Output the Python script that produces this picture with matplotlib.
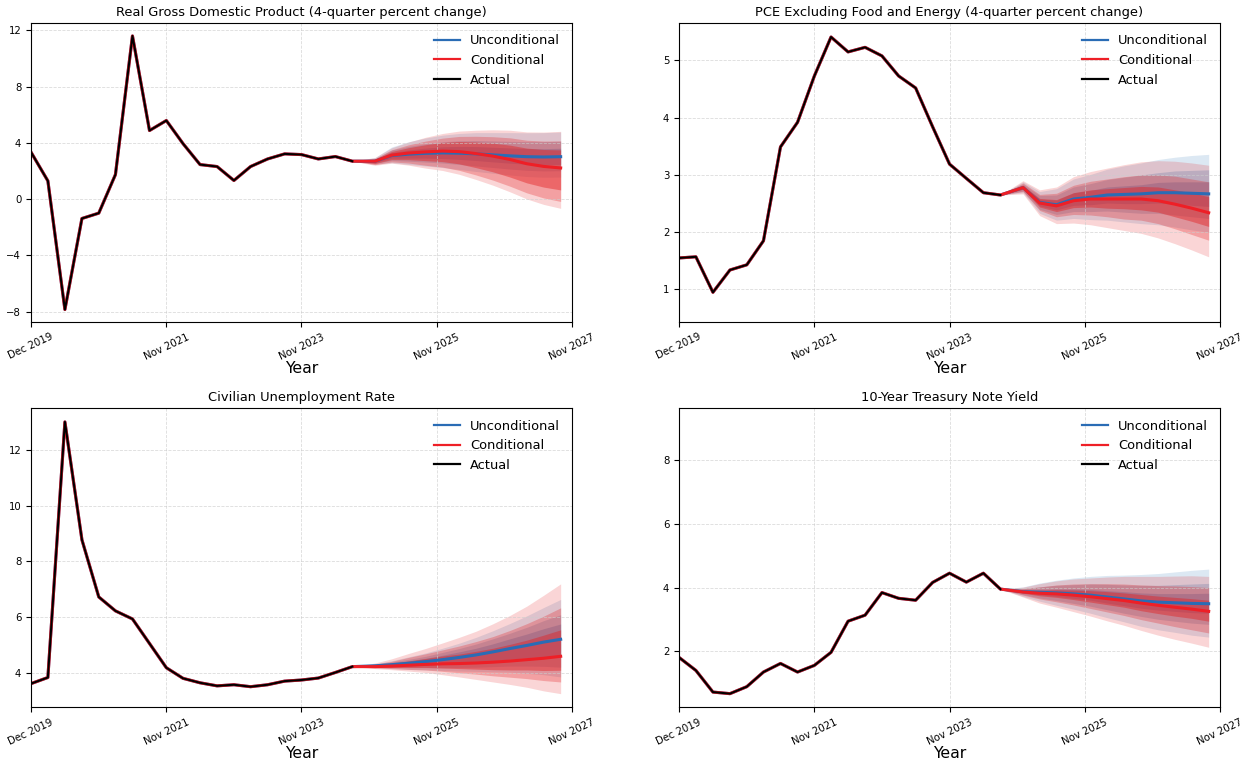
import numpy as np
import pandas as pd
import matplotlib
matplotlib.use("Agg")
import matplotlib.pyplot as plt
import matplotlib.dates as mdates
from matplotlib.lines import Line2D

# ---------------------------------------------------------------- dates
hist_dates = pd.date_range("2019-12-01", periods=20, freq="3MS")
proj_dates = pd.date_range("2025-01-01", periods=12, freq="3MS")
x_start = pd.Timestamp("2019-12-01")
x_end = pd.Timestamp("2027-12-01")
tick_labels = ["Dec 2019", "Nov 2021", "Nov 2023", "Nov 2025", "Nov 2027"]

titles = [
    "Real Gross Domestic Product (4-quarter percent change)",
    "PCE Excluding Food and Energy (4-quarter percent change)",
    "Civilian Unemployment Rate",
    "10-Year Treasury Note Yield",
]

# ---------------------------------------------------------------- real GDP
gdp_actual = [3.34, 1.30, -7.84, -1.37, -0.99, 1.75, 11.6, 4.88, 5.59, 3.95,
              2.46, 2.32, 1.33, 2.32, 2.86, 3.22, 3.17, 2.86, 3.03, 2.70]
gdp_uncond = [2.70, 2.70, 3.10, 3.20, 3.26, 3.29, 3.27, 3.22, 3.15, 3.08, 3.02, 3.00, 3.02]
gdp_cond = [2.70, 2.70, 3.13, 3.28, 3.36, 3.42, 3.38, 3.24, 3.06, 2.82, 2.52, 2.33, 2.22]
gdp_uncond_bands = [
    ([2.70, 2.48, 2.59, 2.47, 2.36, 2.25, 2.11, 1.97, 1.84, 1.72, 1.61, 1.56, 1.57],
     [2.70, 2.96, 3.71, 4.08, 4.35, 4.55, 4.67, 4.73, 4.73, 4.73, 4.72, 4.73, 4.77]),
    ([2.70, 2.55, 2.75, 2.70, 2.64, 2.57, 2.47, 2.36, 2.25, 2.14, 2.05, 2.01, 2.02],
     [2.70, 2.87, 3.49, 3.75, 3.94, 4.08, 4.15, 4.17, 4.14, 4.11, 4.09, 4.09, 4.12]),
    ([2.70, 2.62, 2.91, 2.92, 2.92, 2.89, 2.83, 2.75, 2.65, 2.56, 2.49, 2.46, 2.47],
     [2.70, 2.79, 3.31, 3.50, 3.63, 3.72, 3.75, 3.74, 3.69, 3.64, 3.60, 3.59, 3.62]),
]
gdp_cond_bands = [
    ([2.70, 2.41, 2.56, 2.42, 2.21, 2.04, 1.77, 1.40, 0.99, 0.52, 0.02, -0.37, -0.65],
     [2.70, 2.96, 3.65, 4.06, 4.40, 4.67, 4.84, 4.90, 4.93, 4.90, 4.78, 4.77, 4.82]),
    ([2.70, 2.46, 2.65, 2.57, 2.41, 2.28, 2.05, 1.72, 1.35, 0.92, 0.45, 0.09, -0.16],
     [2.70, 2.89, 3.51, 3.86, 4.13, 4.34, 4.46, 4.47, 4.44, 4.36, 4.19, 4.13, 4.14]),
    ([2.70, 2.54, 2.82, 2.81, 2.74, 2.67, 2.51, 2.24, 1.94, 1.57, 1.16, 0.86, 0.66],
     [2.70, 2.83, 3.39, 3.66, 3.87, 4.03, 4.10, 4.06, 3.98, 3.84, 3.63, 3.53, 3.50]),
]

# ---------------------------------------------------------------- core PCE
pce_actual = [1.55, 1.57, 0.95, 1.34, 1.43, 1.85, 3.49, 3.92, 4.73, 5.41,
              5.15, 5.23, 5.08, 4.73, 4.52, 3.84, 3.19, 2.94, 2.69, 2.65]
pce_uncond = [2.65, 2.78, 2.52, 2.48, 2.58, 2.61, 2.65, 2.66, 2.67, 2.69, 2.69, 2.68, 2.67]
pce_cond = [2.65, 2.78, 2.51, 2.46, 2.55, 2.58, 2.58, 2.58, 2.58, 2.55, 2.49, 2.42, 2.34]
pce_uncond_bands = [
    ([2.65, 2.69, 2.33, 2.21, 2.24, 2.22, 2.21, 2.18, 2.15, 2.13, 2.09, 2.04, 2.00],
     [2.65, 2.88, 2.71, 2.76, 2.93, 3.01, 3.10, 3.16, 3.21, 3.27, 3.31, 3.34, 3.36]),
    ([2.65, 2.72, 2.40, 2.31, 2.36, 2.36, 2.37, 2.35, 2.33, 2.33, 2.30, 2.27, 2.24],
     [2.65, 2.84, 2.64, 2.65, 2.79, 2.85, 2.92, 2.96, 3.00, 3.04, 3.07, 3.08, 3.09]),
    ([2.65, 2.75, 2.46, 2.39, 2.47, 2.48, 2.51, 2.50, 2.50, 2.51, 2.49, 2.47, 2.45],
     [2.65, 2.81, 2.58, 2.56, 2.69, 2.73, 2.79, 2.81, 2.83, 2.87, 2.88, 2.88, 2.88]),
]
pce_cond_bands = [
    ([2.65, 2.67, 2.29, 2.15, 2.16, 2.13, 2.08, 2.03, 1.98, 1.90, 1.80, 1.69, 1.57],
     [2.65, 2.90, 2.74, 2.79, 2.97, 3.06, 3.12, 3.18, 3.23, 3.25, 3.24, 3.21, 3.17]),
    ([2.65, 2.71, 2.38, 2.27, 2.31, 2.30, 2.27, 2.23, 2.21, 2.15, 2.06, 1.96, 1.86],
     [2.65, 2.86, 2.66, 2.68, 2.82, 2.89, 2.93, 2.97, 3.00, 3.00, 2.98, 2.93, 2.88]),
    ([2.65, 2.75, 2.44, 2.36, 2.43, 2.44, 2.42, 2.41, 2.39, 2.35, 2.27, 2.19, 2.10],
     [2.65, 2.82, 2.59, 2.57, 2.69, 2.74, 2.76, 2.78, 2.80, 2.79, 2.74, 2.69, 2.62]),
]

# ---------------------------------------------------------------- unemployment
ur_actual = [3.61, 3.83, 13.0, 8.77, 6.72, 6.22, 5.93, 5.05, 4.18, 3.80,
             3.64, 3.53, 3.57, 3.50, 3.57, 3.70, 3.74, 3.81, 4.01, 4.22]
ur_uncond = [4.22, 4.25, 4.29, 4.34, 4.40, 4.47, 4.55, 4.64, 4.75, 4.87, 4.98, 5.10, 5.20]
ur_cond = [4.22, 4.22, 4.24, 4.27, 4.30, 4.32, 4.33, 4.35, 4.38, 4.42, 4.47, 4.52, 4.59]
ur_uncond_bands = [
    ([4.22, 4.18, 4.15, 4.12, 4.10, 4.08, 4.06, 4.05, 4.03, 4.02, 3.98, 3.93, 3.85],
     [4.22, 4.32, 4.43, 4.57, 4.71, 4.88, 5.06, 5.27, 5.51, 5.77, 6.04, 6.34, 6.63]),
    ([4.22, 4.20, 4.19, 4.18, 4.18, 4.18, 4.19, 4.20, 4.22, 4.24, 4.24, 4.23, 4.20],
     [4.22, 4.29, 4.38, 4.48, 4.59, 4.73, 4.87, 5.03, 5.22, 5.42, 5.63, 5.87, 6.08]),
    ([4.22, 4.22, 4.23, 4.24, 4.27, 4.30, 4.33, 4.38, 4.43, 4.49, 4.54, 4.58, 4.60],
     [4.22, 4.28, 4.35, 4.43, 4.52, 4.63, 4.75, 4.88, 5.04, 5.22, 5.39, 5.58, 5.75]),
]
ur_cond_bands = [
    ([4.22, 4.15, 4.11, 4.06, 4.01, 3.93, 3.85, 3.76, 3.67, 3.58, 3.48, 3.35, 3.25],
     [4.22, 4.35, 4.50, 4.69, 4.87, 5.07, 5.27, 5.49, 5.76, 6.06, 6.39, 6.78, 7.19]),
    ([4.22, 4.17, 4.15, 4.12, 4.10, 4.05, 4.00, 3.95, 3.89, 3.84, 3.79, 3.72, 3.67],
     [4.22, 4.31, 4.41, 4.55, 4.68, 4.82, 4.96, 5.12, 5.30, 5.52, 5.76, 6.03, 6.33]),
    ([4.22, 4.19, 4.19, 4.19, 4.19, 4.17, 4.15, 4.13, 4.11, 4.10, 4.10, 4.08, 4.09],
     [4.22, 4.27, 4.34, 4.42, 4.51, 4.60, 4.67, 4.77, 4.88, 5.02, 5.17, 5.35, 5.54]),
]

# ---------------------------------------------------------------- 10-year yield
tsy_actual = [1.80, 1.39, 0.71, 0.66, 0.88, 1.34, 1.61, 1.34, 1.55, 1.96,
              2.94, 3.13, 3.84, 3.66, 3.60, 4.16, 4.45, 4.17, 4.45, 3.95]
tsy_uncond = [3.95, 3.87, 3.85, 3.83, 3.80, 3.76, 3.70, 3.64, 3.58, 3.54, 3.52, 3.50, 3.49]
tsy_cond = [3.95, 3.86, 3.82, 3.80, 3.76, 3.71, 3.65, 3.59, 3.51, 3.44, 3.38, 3.32, 3.25]
tsy_uncond_bands = [
    ([3.95, 3.72, 3.57, 3.44, 3.32, 3.19, 3.05, 2.92, 2.78, 2.67, 2.59, 2.50, 2.44],
     [3.95, 4.02, 4.14, 4.23, 4.30, 4.35, 4.38, 4.39, 4.41, 4.44, 4.49, 4.54, 4.58]),
    ([3.95, 3.78, 3.67, 3.59, 3.50, 3.41, 3.30, 3.19, 3.09, 3.00, 2.94, 2.88, 2.84],
     [3.95, 3.96, 4.02, 4.07, 4.09, 4.11, 4.10, 4.08, 4.07, 4.07, 4.09, 4.11, 4.13]),
    ([3.95, 3.83, 3.77, 3.72, 3.66, 3.60, 3.51, 3.43, 3.35, 3.29, 3.25, 3.21, 3.19],
     [3.95, 3.92, 3.94, 3.95, 3.95, 3.94, 3.90, 3.87, 3.83, 3.81, 3.81, 3.81, 3.82]),
]
tsy_cond_bands = [
    ([3.95, 3.70, 3.51, 3.38, 3.24, 3.10, 2.95, 2.81, 2.65, 2.50, 2.37, 2.25, 2.12],
     [3.95, 4.01, 4.12, 4.21, 4.27, 4.30, 4.33, 4.35, 4.35, 4.35, 4.36, 4.37, 4.35]),
    ([3.95, 3.76, 3.64, 3.55, 3.45, 3.34, 3.23, 3.12, 2.99, 2.88, 2.77, 2.67, 2.57],
     [3.95, 3.97, 4.02, 4.08, 4.11, 4.12, 4.12, 4.11, 4.08, 4.06, 4.05, 4.03, 4.00]),
    ([3.95, 3.82, 3.74, 3.69, 3.62, 3.54, 3.46, 3.38, 3.27, 3.18, 3.10, 3.03, 2.94],
     [3.95, 3.91, 3.91, 3.93, 3.92, 3.90, 3.87, 3.83, 3.78, 3.73, 3.69, 3.65, 3.60]),
]

y_limits = [(-8.73, 12.54), (0.43, 5.66), (2.76, 13.5), (0.23, 9.65)]
y_ticks = [[-8, -4, 0, 4, 8, 12], [1, 2, 3, 4, 5], [4, 6, 8, 10, 12], [2, 4, 6, 8]]

panels = [
    (gdp_actual, gdp_uncond, gdp_cond, gdp_uncond_bands, gdp_cond_bands),
    (pce_actual, pce_uncond, pce_cond, pce_uncond_bands, pce_cond_bands),
    (ur_actual, ur_uncond, ur_cond, ur_uncond_bands, ur_cond_bands),
    (tsy_actual, tsy_uncond, tsy_cond, tsy_uncond_bands, tsy_cond_bands),
]

# ---------------------------------------------------------------- style
blue_line = "#2a6cb5"
blue_fill = "#3078b8"
red_line = "#ee1f26"
red_fill = "#e41a1c"
blue_alphas = [0.17, 0.24, 0.32]
red_alphas = [0.18, 0.28, 0.42]

fig, axes = plt.subplots(2, 2, figsize=(12.51, 7.65), dpi=100)
fig.subplots_adjust(left=0.0248, right=0.9752, top=0.9703, bottom=0.0754,
                    wspace=0.198, hspace=0.287)

fan_dates = hist_dates[-1:].append(proj_dates)
all_dates = hist_dates.append(proj_dates)
x0, x1 = mdates.date2num(x_start), mdates.date2num(x_end)

for ax, title, (actual, uncond, cond, ub, cb), ylim, yt in zip(
        axes.flat, titles, panels, y_limits, y_ticks):
    for (lo, hi), a in zip(ub, blue_alphas):
        ax.fill_between(fan_dates, lo, hi, color=blue_fill, alpha=a, lw=0)
    for (lo, hi), a in zip(cb, red_alphas):
        ax.fill_between(fan_dates, lo, hi, color=red_fill, alpha=a, lw=0)

    ax.plot(all_dates, list(actual) + list(uncond[1:]), color=blue_line, lw=2.2)
    ax.plot(all_dates, list(actual) + list(cond[1:]), color=red_line, lw=2.2)
    ax.plot(hist_dates, actual, color="black", lw=1.5)

    ax.set_xlim(x0, x1)
    ax.set_xticks(np.linspace(x0, x1, len(tick_labels)))
    ax.set_xticklabels(tick_labels, rotation=25, ha="center", fontsize=7.3)
    ax.set_ylim(*ylim)
    ax.set_yticks(yt)
    ax.tick_params(axis="y", labelsize=7.3)
    ax.grid(True, linestyle="--", color="#cccccc", lw=0.6, alpha=0.7)
    ax.set_title(title, fontsize=9.4, pad=5)
    ax.set_xlabel("Year", fontsize=11.3, labelpad=-0.5)

    handles = [Line2D([0], [0], color=blue_line, lw=1.6),
               Line2D([0], [0], color=red_line, lw=1.6),
               Line2D([0], [0], color="black", lw=1.6)]
    ax.legend(handles, ["Unconditional", "Conditional", "Actual"],
              loc="upper right", frameon=False, fontsize=9.4)

fig.savefig("out.png", dpi=100)
